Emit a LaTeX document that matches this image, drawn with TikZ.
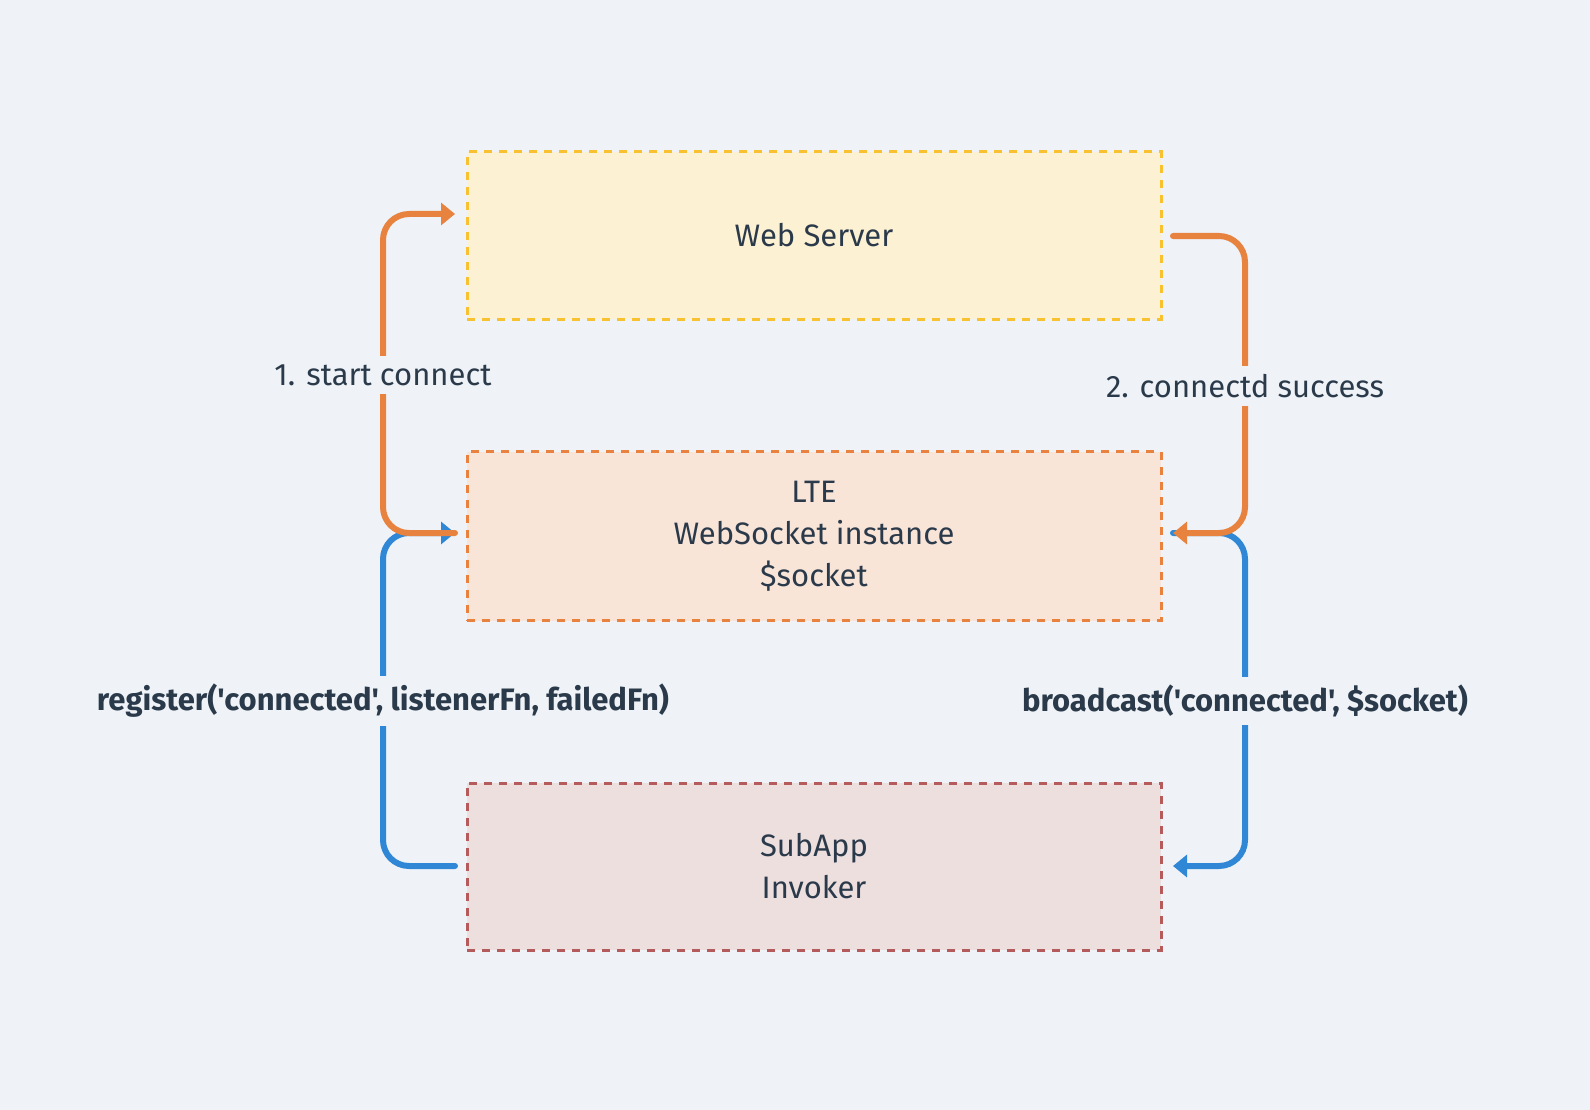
\documentclass[tikz,border=0pt]{standalone}
\usepackage{fontspec}
\setmainfont{Fira Sans}[Ligatures=TeXOff]
\usetikzlibrary{arrows.meta,calc}
\definecolor{bg}{HTML}{EFF3F7}
\definecolor{txt}{HTML}{2B3A4A}
\definecolor{wsfill}{HTML}{FDF1D3}
\definecolor{wsdraw}{HTML}{F8C12F}
\definecolor{ltefill}{HTML}{F9E4D8}
\definecolor{ltedraw}{HTML}{E9823F}
\definecolor{subfill}{HTML}{EEDFDF}
\definecolor{subdraw}{HTML}{B55B5B}
\definecolor{orangeline}{HTML}{E8823F}
\definecolor{blueline}{HTML}{2F87D6}
\tikzset{
  box/.style={draw, line width=3pt, dash pattern=on 8pt off 7pt, minimum width=694pt, inner sep=0pt, align=center, text=txt, font=\fontsize{31}{42}\selectfont},
  conn/.style={line width=6pt, line cap=round, rounded corners=26pt, -{Triangle[length=14pt,width=22pt]}},
  lbl/.style={fill=bg, text=txt, inner xsep=4pt, inner ysep=8pt, font=\fontsize{31}{36}\selectfont},
  blbl/.style={lbl, font=\fontsize{31}{36}\selectfont\bfseries},
}
\begin{document}
\begin{tikzpicture}[x=1pt,y=-1pt]
\fill[bg] (0,0) rectangle (1590,1110);
\useasboundingbox (0,0) rectangle (1590,1110);
\node[box, fill=wsfill, draw=wsdraw, minimum height=167pt] (ws) at (814,235.5) {Web Server};
\node[box, fill=ltefill, draw=ltedraw, minimum height=169pt] (lte) at (814,536) {LTE\\WebSocket instance\\\$socket};
\node[box, fill=subfill, draw=subdraw, minimum height=167pt] (sub) at (814,866.5) {SubApp\\Invoker};
% anchor coordinates
\coordinate (wsL) at (455,214);
\coordinate (wsR) at (1173,236);
\coordinate (lteL) at (455,533);
\coordinate (lteR) at (1173,533);
\coordinate (subL) at (455,866);
\coordinate (subR) at (1173,866);
% blue connectors (below orange)
\draw[conn, blueline] (subL) -- (383,866) -- (383,533) -- (lteL);
\node[blbl] (bll) at (383,701) {register('connected', listenerFn, failedFn)};
\draw[conn, blueline] (lteR) -- (1245,533) -- (1245,866) -- (subR);
\node[blbl] (blr) at (1245,701) {broadcast('connected', \$socket)};
% orange connectors
\draw[conn, orangeline] (lteL) -- (383,533) -- (383,214) -- (wsL);
\node[lbl] (ol) at (383,375) {1. start connect};
\draw[conn, orangeline] (wsR) -- (1245,236) -- (1245,533) -- (lteR);
\node[lbl] (or) at (1245,386) {2. connectd success};
\end{tikzpicture}
\end{document}
